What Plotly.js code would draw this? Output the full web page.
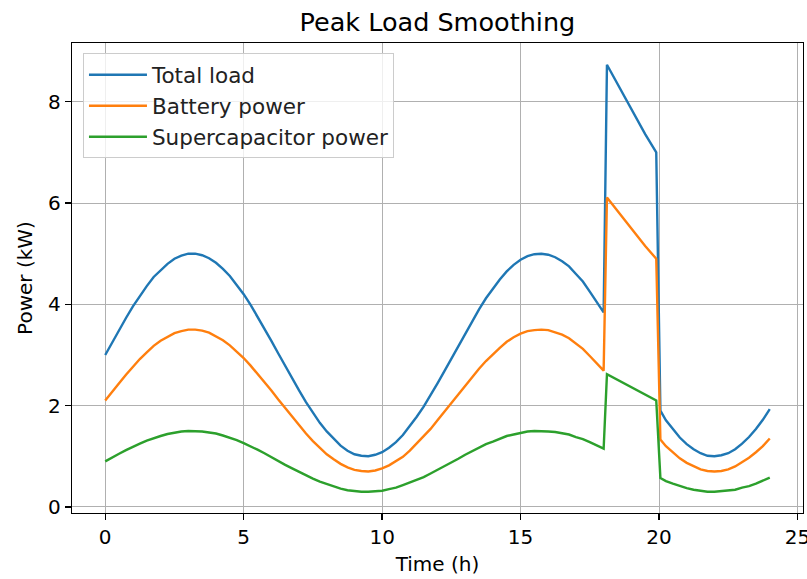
<!DOCTYPE html>
<html>
<head>
<meta charset="utf-8">
<script src="https://cdn.plot.ly/plotly-3.0.1.min.js"></script>
<style>
html,body{margin:0;padding:0;background:#fff;}
#chart{width:807px;height:579px;}
</style>
</head>
<body>
<div id="chart"></div>
<script>
const timeH = [0,0.25,0.5,0.75,1,1.25,1.5,1.75,2,2.25,2.5,2.75,3,3.25,3.5,3.75,4,4.25,4.5,4.75,5,5.25,5.5,5.75,6,6.25,6.5,6.75,7,7.25,7.5,7.75,8,8.25,8.5,8.75,9,9.25,9.5,9.75,10,10.25,10.5,10.75,11,11.25,11.5,11.75,12,12.25,12.5,12.75,13,13.25,13.5,13.75,14,14.25,14.5,14.75,15,15.25,15.5,15.75,16,16.25,16.5,16.75,17,17.25,17.5,17.75,
  18.0,18.12,18.5,19,19.5,19.9,20.05,20.25,20.5,20.75,21,21.25,21.5,21.75,22,22.25,22.5,22.75,23,23.25,23.5,23.75,24];
const totalLoad = [3.00,3.25,3.49,3.73,3.96,4.17,4.36,4.54,4.68,4.80,4.90,4.96,5.00,5.00,4.97,4.91,4.82,4.70,4.56,4.39,4.20,3.99,3.76,3.53,3.28,3.03,2.78,2.54,2.30,2.07,1.86,1.66,1.49,1.34,1.21,1.11,1.04,1.01,1.00,1.03,1.08,1.17,1.28,1.42,1.59,1.78,1.98,2.20,2.44,2.68,2.93,3.18,3.43,3.67,3.90,4.12,4.31,4.49,4.65,4.78,4.88,4.95,4.99,5.00,4.98,4.93,4.85,4.75,4.60,4.45,4.25,4.04,
  3.84,8.73,8.35,7.85,7.36,7.00,1.90,1.71,1.53,1.37,1.24,1.14,1.06,1.01,1.00,1.02,1.06,1.14,1.25,1.38,1.54,1.72,1.93];
const batteryPower = [2.10,2.28,2.44,2.61,2.77,2.92,3.05,3.18,3.28,3.36,3.43,3.47,3.50,3.50,3.48,3.44,3.37,3.29,3.19,3.07,2.94,2.79,2.63,2.47,2.30,2.12,1.95,1.78,1.61,1.45,1.30,1.16,1.04,0.94,0.85,0.78,0.73,0.71,0.70,0.72,0.76,0.82,0.90,0.99,1.11,1.25,1.39,1.54,1.71,1.88,2.05,2.23,2.40,2.57,2.73,2.88,3.02,3.14,3.26,3.35,3.42,3.47,3.49,3.50,3.49,3.45,3.40,3.33,3.22,3.12,2.98,2.83,
  2.69,6.11,5.85,5.50,5.15,4.90,1.33,1.20,1.07,0.96,0.87,0.80,0.74,0.71,0.70,0.71,0.74,0.80,0.88,0.97,1.08,1.20,1.35];
const supercapPower = [0.90,0.98,1.05,1.12,1.19,1.25,1.31,1.36,1.40,1.44,1.47,1.49,1.50,1.50,1.49,1.47,1.45,1.41,1.37,1.32,1.26,1.20,1.13,1.06,0.98,0.91,0.83,0.76,0.69,0.62,0.56,0.50,0.45,0.40,0.36,0.33,0.31,0.30,0.30,0.31,0.32,0.35,0.38,0.43,0.48,0.53,0.59,0.66,0.73,0.80,0.88,0.95,1.03,1.10,1.17,1.24,1.29,1.35,1.40,1.43,1.46,1.49,1.50,1.50,1.49,1.48,1.46,1.43,1.38,1.34,1.28,1.21,
  1.15,2.62,2.51,2.36,2.21,2.10,0.57,0.51,0.46,0.41,0.37,0.34,0.32,0.30,0.30,0.31,0.32,0.34,0.38,0.41,0.46,0.52,0.58];
const seriesNames = ["Total load","Battery power","Supercapacitor power"];
const xTicks = [0,5,10,15,20,25];
const yTicks = [0,2,4,6,8];

const colors = ["#1f77b4","#ff7f0e","#2ca02c"];
const ys = [totalLoad, batteryPower, supercapPower];
const traces = ys.map((y,i)=>({
  x: timeH, y: y, type: "scatter", mode: "lines", name: seriesNames[i],
  legendgroup: "g"+i,
  line: {color: colors[i], width: 2.4}
}));

const font = "DejaVu Sans, sans-serif";
const axisCommon = {
  showline: true, mirror: true, linecolor: "#000", linewidth: 1.3,
  ticks: "outside", ticklen: 6, tickwidth: 1.3, tickcolor: "#000",
  showgrid: true, gridcolor: "#b0b0b0", gridwidth: 1,
  zeroline: false, ticklabeloverflow: "allow",
  tickfont: {family: font, size: 20, color: "#000"}
};
const layout = {
  width: 807, height: 579,
  margin: {l: 72, r: 4, t: 43, b: 66},
  paper_bgcolor: "#fff", plot_bgcolor: "#fff",
  font: {family: font, color: "#000"},
  title: {text: "Peak Load Smoothing", font: {family: font, size: 25.5, color: "#000"}, x: 0.542, xanchor: "center", y: 0.962, yanchor: "middle"},
  xaxis: Object.assign({}, axisCommon, {
    range: [-1.2, 25.2], tickvals: xTicks, ticktext: xTicks.map(String),
    title: {text: "Time (h)", font: {family: font, size: 20, color: "#000"}, standoff: 8}
  }),
  yaxis: Object.assign({}, axisCommon, {
    range: [-0.12, 9.16], tickvals: yTicks, ticktext: yTicks.map(String),
    title: {text: "Power (kW)", font: {family: font, size: 20, color: "#000"}, standoff: 10}
  }),
  showlegend: true,
  legend: {
    x: 0.015, y: 0.978, xanchor: "left", yanchor: "top",
    bgcolor: "rgba(255,255,255,0.8)", bordercolor: "#cccccc", borderwidth: 1,
    font: {family: font, size: 21.5, color: "#222"},
    tracegroupgap: 0, itemwidth: 58
  }
};
Plotly.newPlot("chart", traces, layout, {displayModeBar: false, staticPlot: true});
</script>
</body>
</html>
